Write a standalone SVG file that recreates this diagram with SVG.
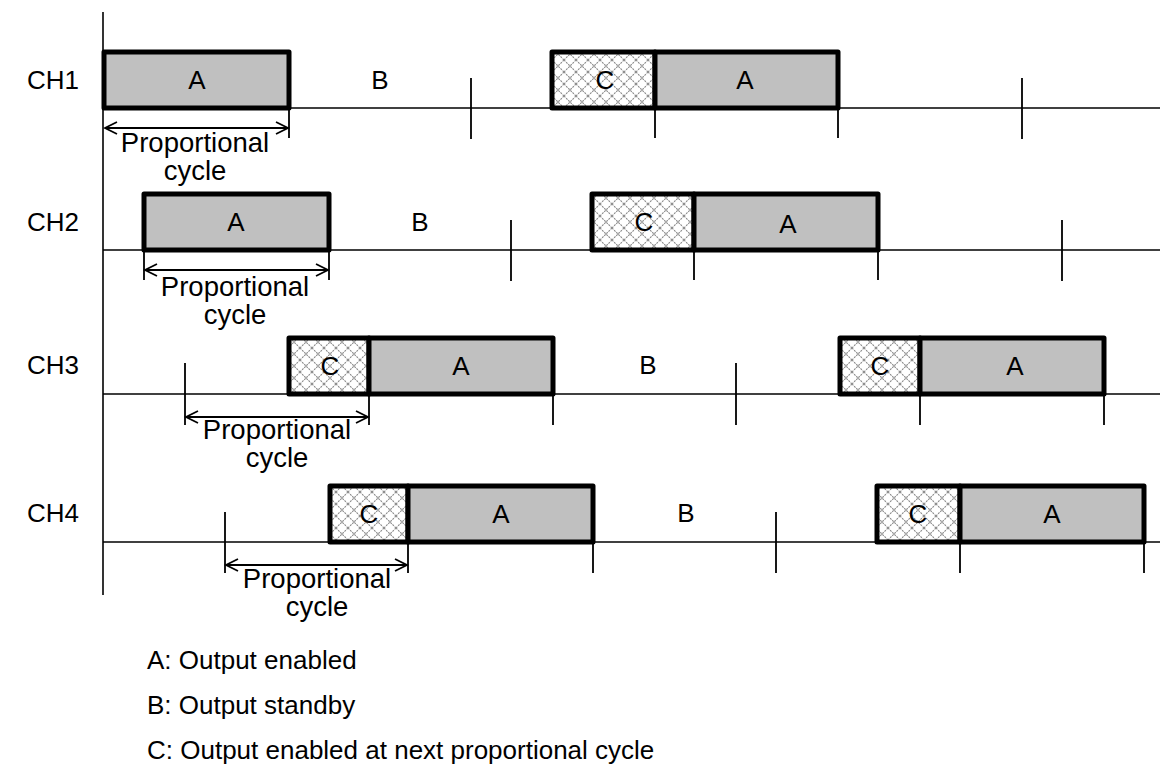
<svg xmlns="http://www.w3.org/2000/svg" width="1160" height="767" viewBox="0 0 1160 767">
<style>
text{font-family:"Liberation Sans",Arial,sans-serif;font-size:26px;fill:#000}
.m{text-anchor:middle}
.p{font-size:27.5px}
.ax{stroke:#000;stroke-width:1.6;fill:none}
.tk{stroke:#000;stroke-width:1.8;fill:none}
.a{fill:#c0c0c0;stroke:#000;stroke-width:5;stroke-linejoin:round}
.c{fill:url(#hatch);stroke:#000;stroke-width:5;stroke-linejoin:round}
.arr{stroke:#000;stroke-width:1.8;fill:none}
</style>
<defs>
<pattern id="hatch" width="12" height="12" patternUnits="userSpaceOnUse">
<rect width="12" height="12" fill="#fff"/>
<path d="M0,0 L12,12 M12,0 L0,12" stroke="#8a8a8a" stroke-width="1.1" stroke-dasharray="2,1"/>
</pattern>
</defs>
<g id="axis">
<line class="ax" x1="103" y1="12" x2="103" y2="595"/>
</g>
<g id="connectors">
<line class="ax" x1="103" y1="108" x2="1160" y2="108"/>
<line class="ax" x1="103" y1="250" x2="1160" y2="250"/>
<line class="ax" x1="103" y1="394" x2="1160" y2="394"/>
<line class="ax" x1="103" y1="542" x2="1160" y2="542"/>
<path class="tk" d="M289,108V138 M471,78V139 M655,108V138 M838,108V138 M1022,78V139"/>
<path class="tk" d="M144,250V280 M329,250V280 M511,220V281 M694,250V280 M878,250V280 M1062,220V281"/>
<path class="tk" d="M185,363V425 M369,394V425 M553,394V425 M736,363V425 M920,394V425 M1104,394V425"/>
<path class="tk" d="M225,512V573 M408,542V573 M593,542V573 M776,512V573 M960,542V573 M1144,542V573"/>
<path class="arr" d="M105,128H288 M117,122L105,128L117,134 M276,122L288,128L276,134"/>
<path class="arr" d="M145,270H328 M157,264L145,270L157,276 M316,264L328,270L316,276"/>
<path class="arr" d="M186,417H368 M198,411L186,417L198,423 M356,411L368,417L356,423"/>
<path class="arr" d="M226,565H407 M238,559L226,565L238,571 M395,559L407,565L395,571"/>
</g>
<g id="labels">
<text x="27" y="89">CH1</text>
<text x="27" y="231">CH2</text>
<text x="27" y="374">CH3</text>
<text x="27" y="522">CH4</text>
</g>
<g id="ch1">
<rect class="a" x="104" y="52" width="185" height="56"/>
<text class="m" x="197" y="89">A</text>
<text class="m" x="380" y="89">B</text>
<rect class="c" x="552" y="52" width="103" height="56"/>
<rect class="a" x="655" y="52" width="183" height="56"/>
<text class="m" x="605" y="89">C</text>
<text class="m" x="745" y="89">A</text>
<text class="m p" x="195" y="152">Proportional</text>
<text class="m p" x="195" y="180">cycle</text>
</g>
<g id="ch2">
<rect class="a" x="144" y="194" width="185" height="56"/>
<text class="m" x="236" y="231">A</text>
<text class="m" x="420" y="231">B</text>
<rect class="c" x="592" y="194" width="102" height="56"/>
<rect class="a" x="694" y="194" width="184" height="56"/>
<text class="m" x="644" y="231">C</text>
<text class="m" x="788" y="233">A</text>
<text class="m p" x="235" y="296">Proportional</text>
<text class="m p" x="235" y="324">cycle</text>
</g>
<g id="ch3">
<rect class="c" x="289" y="338" width="80" height="56"/>
<rect class="a" x="369" y="338" width="184" height="56"/>
<text class="m" x="330" y="375">C</text>
<text class="m" x="461" y="375">A</text>
<text class="m" x="648" y="374">B</text>
<rect class="c" x="840" y="338" width="80" height="56"/>
<rect class="a" x="920" y="338" width="184" height="56"/>
<text class="m" x="880" y="375">C</text>
<text class="m" x="1015" y="375">A</text>
<text class="m p" x="277" y="439">Proportional</text>
<text class="m p" x="277" y="467">cycle</text>
</g>
<g id="ch4">
<rect class="c" x="330" y="486" width="78" height="56"/>
<rect class="a" x="408" y="486" width="185" height="56"/>
<text class="m" x="369" y="523">C</text>
<text class="m" x="501" y="523">A</text>
<text class="m" x="686" y="522">B</text>
<rect class="c" x="877" y="486" width="83" height="56"/>
<rect class="a" x="960" y="486" width="184" height="56"/>
<text class="m" x="918" y="523">C</text>
<text class="m" x="1052" y="523">A</text>
<text class="m p" x="317" y="588">Proportional</text>
<text class="m p" x="317" y="616">cycle</text>
</g>
<g id="legend">
<text x="147" y="669">A: Output enabled</text>
<text x="147" y="714">B: Output standby</text>
<text x="147" y="759">C: Output enabled at next proportional cycle</text>
</g>
</svg>
